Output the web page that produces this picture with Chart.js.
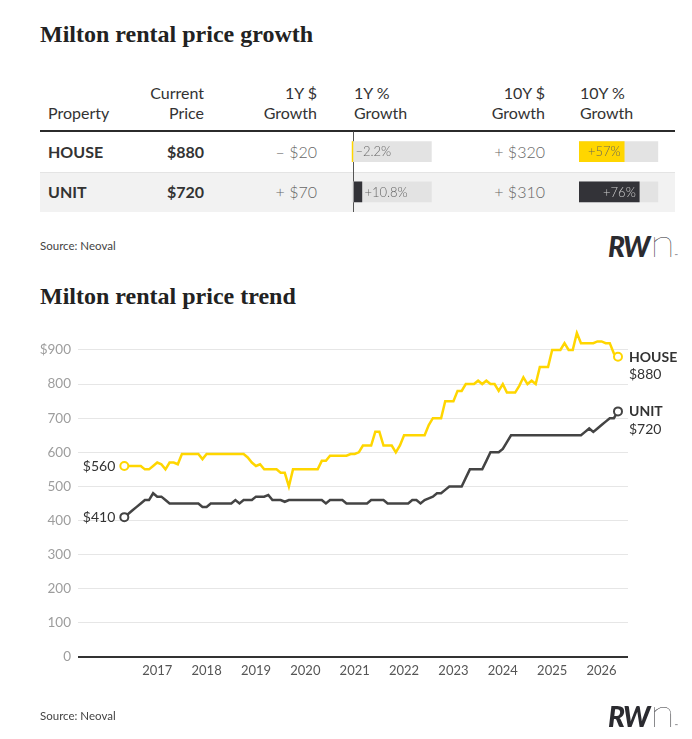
<!DOCTYPE html>
<html>
<head>
<meta charset="utf-8">
<script src="https://cdn.jsdelivr.net/npm/chart.js@4.4.1/dist/chart.umd.min.js"></script>
<style>
  body { margin: 0; background: #fff; width: 692px; height: 739px; position: relative; overflow: hidden; font-family: Lato, sans-serif; color: #333; }
  .abs { position: absolute; }
  .title { font-family: "Liberation Serif", serif; font-weight: bold; font-size: 24px; line-height: 24px; color: #222; left: 40px; white-space: nowrap; }
  .hd { top: 83px; font-size: 16px; line-height: 19.5px; color: #333; white-space: nowrap; }
  .cell { font-size: 16px; line-height: 40px; height: 40px; white-space: nowrap; }
  .source { left: 40px; font-size: 11.5px; color: #444; }
  .logo { left: 608px; color: #2b2b30; white-space: nowrap; line-height: 1; }
  .logo .rw { font-style: italic; font-weight: 900; font-size: 28px; letter-spacing: -1.5px; }
  .logo .n { font-weight: 200; font-size: 40px; margin-left: 1px; display: inline-block; transform: scaleX(1.15); transform-origin: left; }
  .logo .tm { font-size: 4px; margin-left: 3px; }
</style>
</head>
<body>

<div class="abs title" style="top:22px">Milton rental price growth</div>

<div class="abs hd" style="left:48px"><br>Property</div>
<div class="abs hd" style="right:488px;text-align:right">Current<br>Price</div>
<div class="abs hd" style="right:375px;text-align:right">1Y $<br>Growth</div>
<div class="abs hd" style="left:354px">1Y %<br>Growth</div>
<div class="abs hd" style="right:147px;text-align:right">10Y $<br>Growth</div>
<div class="abs hd" style="left:580px">10Y %<br>Growth</div>
<div class="abs" style="left:40px;top:129.5px;width:635px;height:2px;background:#2b2b2b"></div>

<div id="rows"></div>

<canvas id="bars1y" class="abs" style="left:340px;top:131px" width="100" height="81"></canvas>
<canvas id="bars10y" class="abs" style="left:570px;top:131px" width="100" height="81"></canvas>

<div class="abs source" style="top:239px">Source: Neoval</div>
<div class="abs logo" style="top:222px"><span class="rw">RW</span><span class="n">n</span><span class="tm">™</span></div>

<div class="abs title" style="top:284px">Milton rental price trend</div>

<canvas id="trend" class="abs" style="left:0;top:320px" width="692" height="390"></canvas>

<div class="abs source" style="top:709px">Source: Neoval</div>
<div class="abs logo" style="top:692px"><span class="rw">RW</span><span class="n">n</span><span class="tm">™</span></div>

<script>
// table data
const properties = ['HOUSE', 'UNIT'];
const currentPrice = [880, 720];
const growth1yDollar = [-20, 70];
const growth1yPct = [-2.2, 10.8];
const growth10yDollar = [320, 310];
const growth10yPct = [57, 76];

// monthly rents, May 2016 .. May 2026
const startYear = 2016;
const startMonth = 5;
const houseRent = [
  560, 560, 560, 560, 560, 550, 550, 560, 570, 565, 550, 570, 570, 565,
  595, 595, 595, 595, 595, 580, 595, 595, 595, 595, 595, 595, 595, 595, 595, 595,
  585, 570, 560, 565, 550, 550, 550, 550, 540, 540, 500,
  550, 550, 550, 550, 550, 550, 550, 575, 575, 590, 590, 590, 590, 590,
  595, 595, 600, 620, 620, 620, 660, 660, 620, 620, 620, 600, 620,
  650, 650, 650, 650, 650, 650, 680, 700, 700, 700, 750, 750, 750, 780, 780,
  800, 800, 800, 810, 800, 810, 800, 800, 780, 800, 775, 775, 775, 795, 820,
  800, 810, 800, 850, 850, 850, 900, 900, 900, 920, 900, 900, 950,
  920, 920, 920, 920, 925, 925, 920, 920, 890, 880
];
const unitRent = [
  410, 420, 430, 440, 450, 460, 460, 480, 470, 470, 460,
  450, 450, 450, 450, 450, 450, 450, 450, 440, 440,
  450, 450, 450, 450, 450, 450, 460, 450, 460, 460, 460, 470, 470, 470, 475,
  460, 460, 460, 455, 460, 460, 460, 460, 460, 460, 460, 460, 460, 450,
  460, 460, 460, 460, 450, 450, 450, 450, 450, 450, 460, 460, 460, 460,
  450, 450, 450, 450, 450, 450, 460, 460, 450, 460, 465, 470, 480, 480, 490,
  500, 500, 500, 500, 525, 550, 550, 550, 550, 575, 600, 600, 600, 610, 630,
  650, 650, 650, 650, 650, 650, 650, 650, 650, 650, 650, 650, 650, 650, 650, 650, 650, 650,
  660, 670, 660, 670, 680, 690, 700, 700, 720
];
const yearTicks = [2017, 2018, 2019, 2020, 2021, 2022, 2023, 2024, 2025, 2026];
const rentTicks = [0, 100, 200, 300, 400, 500, 600, 700, 800, 900];

const houseColor = '#ffd600';
const unitColor = '#444444';
const darkBar = '#333338';
const trackColor = '#e3e3e3';

function monthX(i) {
  return startYear + (startMonth - 1 + i) / 12;
}

function toPoints(values) {
  return values.map((v, i) => ({ x: monthX(i), y: v }));
}

function money(v) {
  return (v < 0 ? '\u2013 $' : '+ $') + Math.abs(v);
}

function pct(v) {
  return (v < 0 ? '\u2013' : '+') + Math.abs(v) + '%';
}

// table rows
const rowsEl = document.getElementById('rows');
properties.forEach((name, r) => {
  const top = 131.5 + r * 40;
  let html = '';
  if (r % 2 === 1) {
    html += `<div class="abs" style="left:40px;top:${top}px;width:635px;height:40px;background:#f2f2f2;border-top:1px solid #e4e4e4;box-sizing:border-box"></div>`;
  }
  html += `<div class="abs cell" style="left:48px;top:${top}px;font-weight:bold">${name}</div>`;
  html += `<div class="abs cell" style="right:488px;top:${top}px;font-weight:bold">$${currentPrice[r]}</div>`;
  html += `<div class="abs cell" style="right:375px;top:${top}px;font-weight:300;color:#666">${money(growth1yDollar[r])}</div>`;
  html += `<div class="abs cell" style="right:147px;top:${top}px;font-weight:300;color:#666">${money(growth10yDollar[r])}</div>`;
  rowsEl.insertAdjacentHTML('beforeend', html);
});

const barLabels = {
  id: 'barLabels',
  afterDatasetsDraw(chart, args, opts) {
    const ctx = chart.ctx;
    const meta = chart.getDatasetMeta(0);
    ctx.save();
    ctx.font = '300 13px Lato';
    ctx.textBaseline = 'middle';
    meta.data.forEach((bar, i) => {
      const v = chart.data.datasets[0].data[i];
      if (opts.inside) {
        ctx.textAlign = 'right';
        ctx.fillStyle = opts.insideColors[i];
        ctx.fillText(pct(v), bar.x - 3.5, bar.y + 0.5);
      } else {
        ctx.textAlign = 'left';
        ctx.fillStyle = '#666';
        ctx.fillText(pct(v), Math.max(bar.x, bar.base) + 2.5, bar.y + 0.5);
      }
    });
    ctx.restore();
  }
};

function buildBars(canvasId, values, minVal, pad, zeroLine, labelOpts) {
  const track = properties.map(() => [minVal, 100]);
  return new Chart(document.getElementById(canvasId), {
    type: 'bar',
    data: {
      labels: properties,
      datasets: [
        { data: values, backgroundColor: [houseColor, darkBar], barThickness: 20, order: 0 },
        { data: track, backgroundColor: trackColor, barThickness: 20, order: 1 }
      ]
    },
    options: {
      indexAxis: 'y',
      responsive: false,
      animation: false,
      events: [],
      layout: { padding: pad },
      datasets: { bar: { grouped: false } },
      plugins: { legend: { display: false }, tooltip: { enabled: false }, barLabels: labelOpts },
      scales: {
        x: {
          min: minVal,
          max: 100,
          z: 1,
          ticks: { display: false },
          border: { display: false },
          grid: { display: zeroLine, color: '#555', lineWidth: 1, drawTicks: false },
          afterBuildTicks: (axis) => { axis.ticks = [{ value: 0 }]; },
          afterFit: (axis) => { axis.height = 0; }
        },
        y: { display: false }
      }
    },
    plugins: [barLabels]
  });
}

function buildTrend() {
  const lastIndex = houseRent.length - 1;
  const endPoints = (ctx) => (ctx.dataIndex === 0 || ctx.dataIndex === lastIndex) ? 4 : 0;

  const seriesLabels = {
    id: 'seriesLabels',
    afterDatasetsDraw(chart) {
      const ctx = chart.ctx;
      ctx.save();
      ctx.textBaseline = 'middle';
      chart.data.datasets.forEach((ds, d) => {
        const pts = chart.getDatasetMeta(d).data;
        const first = pts[0];
        const last = pts[pts.length - 1];
        ctx.fillStyle = '#333';
        ctx.font = '14px Lato';
        ctx.textAlign = 'right';
        ctx.fillText('$' + ds.data[0].y, first.x - 9, first.y + 0.5);
        ctx.textAlign = 'left';
        ctx.font = 'bold 14px Lato';
        ctx.fillText(ds.label, last.x + 11, last.y + 0.5);
        ctx.font = '14px Lato';
        ctx.fillText('$' + ds.data[ds.data.length - 1].y, last.x + 11, last.y + 17.8);
      });
      ctx.restore();
    }
  };

  new Chart(document.getElementById('trend'), {
    type: 'line',
    data: {
      datasets: [
        {
          label: 'HOUSE',
          data: toPoints(houseRent),
          borderColor: houseColor,
          borderWidth: 2.5,
          pointRadius: endPoints,
          pointBackgroundColor: '#fff',
          pointBorderColor: houseColor,
          pointBorderWidth: 2,
          tension: 0
        },
        {
          label: 'UNIT',
          data: toPoints(unitRent),
          borderColor: unitColor,
          borderWidth: 2.5,
          pointRadius: endPoints,
          pointBackgroundColor: '#fff',
          pointBorderColor: unitColor,
          pointBorderWidth: 2,
          tension: 0
        }
      ]
    },
    options: {
      responsive: false,
      animation: false,
      events: [],
      layout: { padding: { left: 0, right: 64, top: 9.5, bottom: 0 } },
      plugins: { legend: { display: false }, tooltip: { enabled: false } },
      scales: {
        x: {
          type: 'linear',
          min: 2015.395,
          max: 2026.536,
          grid: { display: false, drawTicks: false },
          border: { display: false },
          ticks: { color: '#555', font: { size: 13 }, padding: 6, callback: (v) => String(v) },
          afterBuildTicks: (axis) => { axis.ticks = yearTicks.map((v) => ({ value: v })); },
          afterFit: (axis) => { axis.height = 53; axis.paddingLeft = 0; axis.paddingRight = 0; }
        },
        y: {
          min: 0,
          max: 960,
          border: { display: false },
          grid: {
            drawTicks: false,
            color: (c) => c.tick.value === 0 ? '#333' : '#e6e6e6',
            lineWidth: (c) => c.tick.value === 0 ? 2 : 1
          },
          ticks: {
            color: '#9d9d9d',
            font: { size: 13.5 },
            padding: 7,
            callback: (v) => v === 900 ? '$900' : String(v)
          },
          afterBuildTicks: (axis) => { axis.ticks = rentTicks.map((v) => ({ value: v })); },
          afterFit: (axis) => { axis.width = 78; axis.paddingTop = 0; axis.paddingBottom = 0; }
        }
      }
    },
    plugins: [seriesLabels]
  });
}

Chart.defaults.font.family = 'Lato';

Promise.all([
  document.fonts.load('14px Lato'),
  document.fonts.load('bold 14px Lato'),
  document.fonts.load('300 13px Lato')
]).catch(() => {}).then(() => {
  buildBars('bars1y', growth1yPct, Math.min(0, ...growth1yPct),
    { left: 11.7, right: 8.3, top: 0.5, bottom: 0 }, true,
    { inside: false });
  buildBars('bars10y', growth10yPct, 0,
    { left: 9, right: 11.7, top: 0.5, bottom: 0 }, false,
    { inside: true, insideColors: ['#6e6a55', '#cfcfcf'] });
  buildTrend();
});
</script>
</body>
</html>
